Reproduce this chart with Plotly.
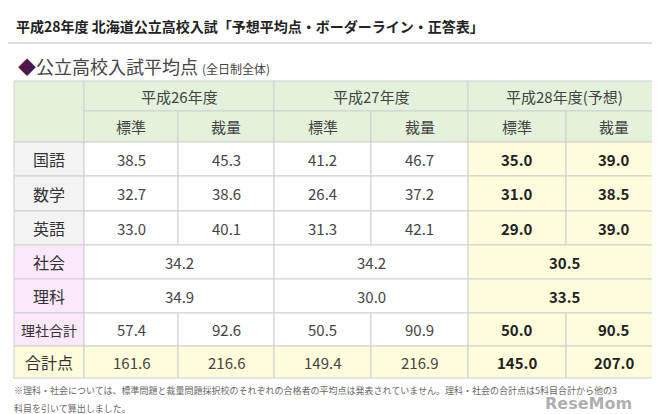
import plotly.graph_objects as go

years = ["平成26年度", "平成27年度", "平成28年度(予想)"]
sub = ["標準", "裁量"]
rows = ["国語", "数学", "英語", "社会", "理科", "理社合計", "合計点"]
y26 = [["38.5", "45.3"], ["32.7", "38.6"], ["33.0", "40.1"], ["34.2"], ["34.9"], ["57.4", "92.6"], ["161.6", "216.6"]]
y27 = [["41.2", "46.7"], ["26.4", "37.2"], ["31.3", "42.1"], ["34.2"], ["30.0"], ["50.5", "90.9"], ["149.4", "216.9"]]
y28 = [["35.0", "39.0"], ["31.0", "38.5"], ["29.0", "39.0"], ["30.5"], ["33.5"], ["50.0", "90.5"], ["145.0", "207.0"]]

FONT = "Noto Sans CJK JP"
colx = [6, 76, 170, 266, 363, 460, 558, 653]
rowy = [73, 103, 134, 168, 203, 237, 271, 305, 338, 370]
GRID = "#cfcfcf"
GREEN = "#e4f2dc"; GREY = "#f3f3f3"; PINK = "#fce8fb"; YEL = "#fffcdc"; WHITE = "#ffffff"
TXT = "#333333"

shapes = []; ann = []

def cell(x0, x1, y0, y1, fill, text, size=15, bold=False, color=TXT):
    shapes.append(dict(type="rect", x0=x0, x1=x1, y0=y0, y1=y1, fillcolor=fill,
                       line=dict(color=GRID, width=1), layer="below"))
    if text:
        t = f"<b>{text}</b>" if bold else text
        ann.append(dict(x=(x0 + x1) / 2, y=(y0 + y1) / 2, text=t, showarrow=False,
                        font=dict(family=FONT, size=size, color=color)))

cell(colx[0], colx[1], rowy[0], rowy[2], GREEN, "")
for i, yname in enumerate(years):
    cell(colx[1 + 2 * i], colx[3 + 2 * i], rowy[0], rowy[1], GREEN, yname, 15, color="#444")
    for j, s in enumerate(sub):
        cell(colx[1 + 2 * i + j], colx[2 + 2 * i + j], rowy[1], rowy[2], GREEN, s, 15, color="#444")

for r, name in enumerate(rows):
    y0, y1 = rowy[r + 2], rowy[r + 3]
    lbg = GREY if r < 3 else (PINK if r < 6 else YEL)
    cell(colx[0], colx[1], y0, y1, lbg, name, 16 if r != 5 else 14)
    for i, data in enumerate([y26, y27, y28]):
        vals = data[r]
        bold = i == 2
        bg = YEL if (i == 2 or r == 6) else WHITE
        col = "#222" if bold else "#444"
        if len(vals) == 1:
            cell(colx[1 + 2 * i], colx[3 + 2 * i], y0, y1, bg, vals[0], 15, bold, color=col)
        else:
            for j, v in enumerate(vals):
                cell(colx[1 + 2 * i + j], colx[2 + 2 * i + j], y0, y1, bg, v, 15, bold, color=col)

ann.append(dict(x=6, y=18, xanchor="left", text="<b>平成28年度 北海道公立高校入試「予想平均点・ボーダーライン・正答表」</b>",
                showarrow=False, font=dict(family=FONT, size=14, color="#222")))
shapes.append(dict(type="line", x0=0, x1=660, y0=35, y1=35, line=dict(color="#bbbbbb", width=1)))
ann.append(dict(x=8, y=58, xanchor="left", text="<span style='color:#4b1848'>◆</span>公立高校入試平均点 <span style='font-size:12px'>(全日制全体)</span>",
                showarrow=False, font=dict(family=FONT, size=18, color="#444")))
ann.append(dict(x=580, y=395, xanchor="center", text="<b>ReseMom</b>",
                showarrow=False, font=dict(family="DejaVu Sans", size=16, color="rgba(120,120,120,0.6)")))
ann.append(dict(x=4, y=382, xanchor="left", text="※理科・社会については、標準問題と裁量問題採択校のそれぞれの合格者の平均点は発表されていません。理科・社会の合計点は5科目合計から他の3",
                showarrow=False, font=dict(family=FONT, size=9, color="#666")))
ann.append(dict(x=4, y=400, xanchor="left", text="科目を引いて算出しました。",
                showarrow=False, font=dict(family=FONT, size=9, color="#666")))

fig = go.Figure()
fig.update_layout(width=660, height=414, margin=dict(l=0, r=0, t=0, b=0),
                  paper_bgcolor="white", plot_bgcolor="white",
                  xaxis=dict(range=[0, 660], visible=False, fixedrange=True),
                  yaxis=dict(range=[414, 0], visible=False, fixedrange=True),
                  shapes=shapes, annotations=ann, showlegend=False)
fig.write_html("out.html", config={"displayModeBar": False})
